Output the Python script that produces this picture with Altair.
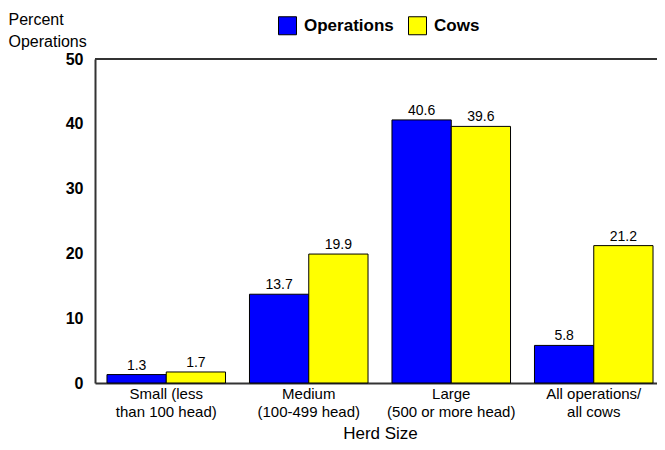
import altair as alt
import pandas as pd

categories = ["Small (less\nthan 100 head)", "Medium\n(100-499 head)", "Large\n(500 or more head)", "All operations/\nall cows"]
series = ["Operations", "Cows"]
operations = [1.3, 13.7, 40.6, 5.8]
cows = [1.7, 19.9, 39.6, 21.2]
y_ticks = [0, 10, 20, 30, 40, 50]

rows = []
for i, c in enumerate(categories):
    rows.append({"cat": c, "series": "Operations", "value": operations[i]})
    rows.append({"cat": c, "series": "Cows", "value": cows[i]})
df = pd.DataFrame(rows)

FONT = "Liberation Sans"

xenc = alt.X("cat:N", sort=categories,
             scale=alt.Scale(paddingInner=0.168, paddingOuter=0.084),
             axis=alt.Axis(title="Herd Size", labelAngle=0, labelExpr="split(datum.label, '\\n')",
                           labelFontSize=15, labelFont=FONT, labelColor="black",
                           labelLineHeight=18, labelPadding=3, ticks=False,
                           domainColor="#333333", domainWidth=2,
                           titleFont=FONT, titleFontSize=17, titleFontWeight="normal",
                           titleColor="black", titleBaseline="alphabetic", titleY=55))
yenc = alt.Y("value:Q", scale=alt.Scale(domain=[0, 50]),
             axis=alt.Axis(values=y_ticks, grid=False, ticks=False, labelPadding=12,
                           labelFont=FONT, labelFontSize=16, labelFontWeight="bold",
                           labelColor="black", domainColor="#333333", domainWidth=2,
                           title=["Percent", "Operations"], titleAngle=0, titleAlign="left",
                           titleBaseline="top", titleX=-87, titleY=-48, titleFont=FONT,
                           titleFontSize=16, titleFontWeight="normal", titleColor="black",
                           titleLineHeight=22))

base = alt.Chart(df).encode(
    x=xenc,
    xOffset=alt.XOffset("series:N", sort=series),
)

bars = base.mark_bar(stroke="black", strokeWidth=1).encode(
    y=yenc,
    color=alt.Color("series:N", sort=series,
                    scale=alt.Scale(domain=series, range=["#0000FF", "#FFFF00"]),
                    legend=alt.Legend(title=None, orient="none", legendX=183, legendY=-43,
                                      direction="horizontal", symbolType="square",
                                      symbolSize=324, symbolStrokeColor="black",
                                      symbolStrokeWidth=1, labelFont=FONT, labelFontSize=17,
                                      labelFontWeight="bold", labelColor="black",
                                      columnPadding=12, labelOffset=7)),
)

labels = base.mark_text(baseline="bottom", dy=-2, font=FONT, fontSize=14, color="black").encode(
    y=alt.Y("value:Q"),
    text=alt.Text("value:Q", format=".1f"),
)

top_rule = alt.Chart(pd.DataFrame({"v": [50]})).mark_rule(color="#333333", strokeWidth=2).encode(
    y=alt.Y("v:Q")
)

chart = alt.layer(bars, labels, top_rule).properties(
    width=570, height=324,
    autosize=alt.AutoSizeParams(type="none"),
    padding={"left": 87, "top": 51, "right": -8, "bottom": 59},
).configure_view(stroke=None)

chart.save("out.html", embed_options={"renderer": "svg", "actions": False})
